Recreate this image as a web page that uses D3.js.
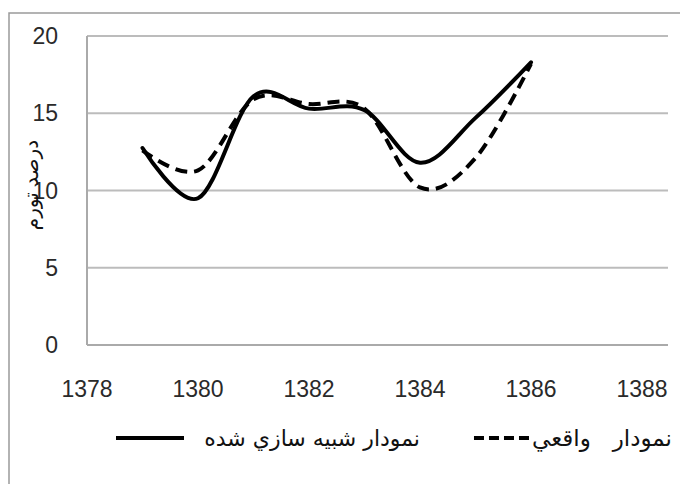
<!DOCTYPE html>
<html><head><meta charset="utf-8">
<script src="https://cdn.jsdelivr.net/npm/d3@7"></script>
<style>body{margin:0;background:#fff}svg{display:block}</style>
</head><body>
<script>
const years = [1379, 1380, 1381, 1382, 1383, 1384, 1385, 1386];
const simulated = [12.75, 9.5, 16.1, 15.3, 15.2, 11.8, 14.7, 18.3];
const actual = [12.6, 11.3, 15.9, 15.6, 15.3, 10.2, 12.1, 18.2];
const xTicks = [1378, 1380, 1382, 1384, 1386, 1388];
const yTicks = [0, 5, 10, 15, 20];
const seriesNames = ["نمودار   واقعي", "نمودار شبيه سازي شده"];
const yTitle = "درصد تورم";

const W = 680, H = 484;
const svg = d3.select("body").append("svg").attr("width", W).attr("height", H);

// outer frame
svg.append("path").attr("d", "M9,484 V13 H680").attr("fill", "none")
  .attr("stroke", "#9a9a9a").attr("stroke-width", 1.5);

const x = d3.scaleLinear().domain([1378, 1388]).range([87, 642]);
const y = d3.scaleLinear().domain([0, 20]).range([345, 36]);
const plotRight = 668;

// gridlines
svg.append("g").selectAll("line").data(yTicks.filter(d => d > 0)).join("line")
  .attr("x1", x(1378)).attr("x2", plotRight)
  .attr("y1", d => y(d)).attr("y2", d => y(d))
  .attr("stroke", "#bcbcbc").attr("stroke-width", 2);

// axes lines
svg.append("line").attr("x1", x(1378)).attr("x2", x(1378)).attr("y1", y(20)).attr("y2", y(0))
  .attr("stroke", "#aaaaaa").attr("stroke-width", 2);
svg.append("line").attr("x1", x(1378)).attr("x2", plotRight).attr("y1", y(0)).attr("y2", y(0))
  .attr("stroke", "#aaaaaa").attr("stroke-width", 2);

const font = "'Liberation Sans', Arial, sans-serif";
// y tick labels
svg.append("g").selectAll("text").data(yTicks).join("text")
  .attr("x", 58).attr("y", d => y(d)).attr("dy", "0.35em")
  .attr("text-anchor", "end").attr("font-family", font).attr("font-size", 23)
  .attr("fill", "#2a2a2a").text(d => d);
// x tick labels
svg.append("g").selectAll("text").data(xTicks).join("text")
  .attr("x", d => x(d)).attr("y", 397)
  .attr("text-anchor", "middle").attr("font-family", font).attr("font-size", 23)
  .attr("fill", "#2a2a2a").text(d => d);

// y title
svg.append("text").attr("transform", "translate(38,185) rotate(-90)")
  .attr("text-anchor", "middle").attr("font-family", "'DejaVu Sans', sans-serif")
  .attr("font-size", 20).attr("fill", "#111").attr("direction", "rtl").text(yTitle);

const line = d3.line().x(d => x(d[0])).y(d => y(d[1])).curve(d3.curveCardinal.tension(0));

svg.append("path").datum(years.map((yr, i) => [yr, actual[i]]))
  .attr("d", line).attr("fill", "none").attr("stroke", "#000")
  .attr("stroke-width", 4).attr("stroke-dasharray", "12,7");
svg.append("path").datum(years.map((yr, i) => [yr, simulated[i]]))
  .attr("d", line).attr("fill", "none").attr("stroke", "#000")
  .attr("stroke-width", 4).attr("stroke-linecap", "round");

// legend
const ly = 438;
const lfont = "'DejaVu Sans', sans-serif";
const t1 = svg.append("text").attr("x", 672).attr("y", ly).attr("dy", "0.35em")
  .attr("text-anchor", "start").attr("direction", "rtl").style("white-space", "pre")
  .attr("font-family", lfont).attr("font-size", 23).attr("fill", "#111").text(seriesNames[0]);
const b1 = t1.node().getBBox();
svg.append("line").attr("x1", b1.x - 58).attr("x2", b1.x - 2).attr("y1", ly).attr("y2", ly)
  .attr("stroke", "#000").attr("stroke-width", 4).attr("stroke-dasharray", "10,5");
svg.append("text").attr("x", 420).attr("y", ly).attr("dy", "0.35em")
  .attr("text-anchor", "start").attr("direction", "rtl")
  .attr("font-family", lfont).attr("font-size", 22).attr("fill", "#111").text(seriesNames[1]);
svg.append("line").attr("x1", 116).attr("x2", 184).attr("y1", ly).attr("y2", ly)
  .attr("stroke", "#000").attr("stroke-width", 4);
</script>
</body></html>
